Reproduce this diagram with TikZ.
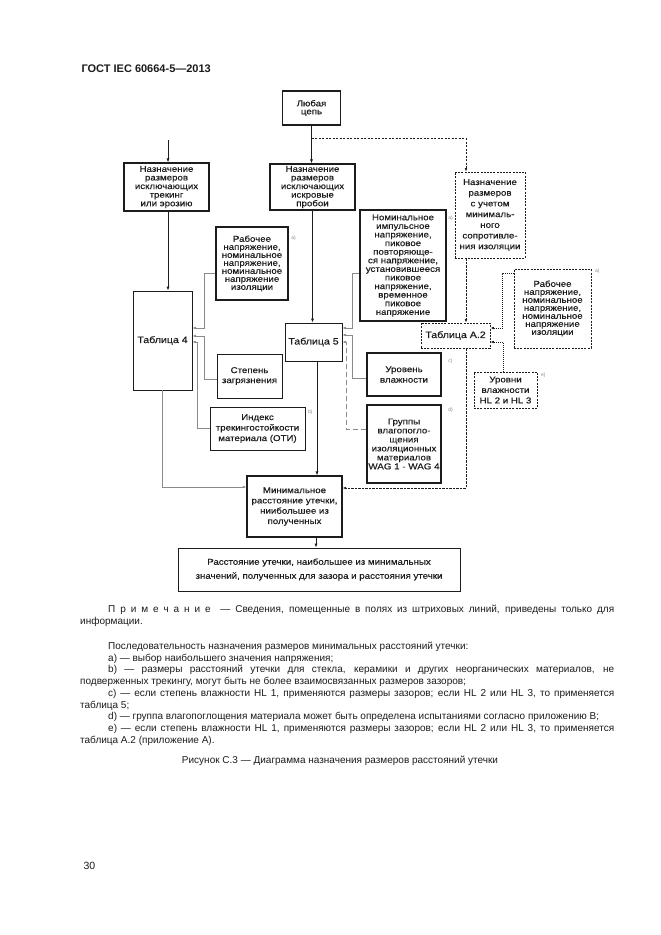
\documentclass[tikz,border=0pt]{standalone}
\usepackage{fontspec}
\setmainfont{Liberation Sans}
\newfontfamily\diafont[FakeStretch=1.14,FakeBold=0.3]{Liberation Sans}
\usetikzlibrary{calc,arrows.meta}
\definecolor{cink}{HTML}{1C1C1C}
\definecolor{cgray}{HTML}{8A8A8A}

\begin{document}
\begin{tikzpicture}[x=1pt,y=-1pt,
    dia/.style={font=\diafont\fontsize{8.5}{#1}\selectfont},dia/.default=8.6,
    every node/.style={text=cink,dia},
    box/.style={draw=cink,line width=1.1pt,align=center,inner sep=0.5pt},
    thinbox/.style={draw=cink,line width=0.7pt,align=center,inner sep=0.5pt},
    dbox/.style={draw=cink,line width=0.7pt,dash pattern=on 2pt off 1.2pt,align=center,inner sep=0.5pt},
    tab/.style={font=\diafont\fontsize{9.3}{11}\selectfont},
    fnote/.style={font=\fontsize{5}{5}\selectfont,text=cgray},
    main/.style={draw=cink,line width=0.9pt,-{Latex[length=4pt,width=3pt]}},
    link/.style={draw=cgray,line width=0.6pt,-{Latex[length=3.5pt,width=2.6pt]}},
    flink/.style={link,dash pattern=on 5pt off 3pt},
    dlink/.style={draw=cink,line width=0.7pt,dash pattern=on 2.2pt off 1.3pt,-{Latex[length=3.5pt,width=2.6pt]}},
    olink/.style={dlink,dash pattern=on 1pt off 1pt}]
  % ---- page
  \path[fill=white] (0,0) rectangle (661,935);
  \node[anchor=west,font=\bfseries\fontsize{11}{13}\selectfont] (head) at (78,69) {ГОСТ IEC 60664-5—2013};

  % ---- top row
  \node[box,minimum width=58,minimum height=34,dia=8] (any) at (311.5,108) {Любая\\цепь};
  \node[box,minimum width=85,minimum height=48] (trk) at (166.5,187)
    {Назначение\\размеров\\исключающих\\трекинг\\или эрозию};
  \node[box,minimum width=85,minimum height=46] (spark) at (312.5,187)
    {Назначение\\размеров\\исключающих\\искровые\\пробои};
  \node[dbox,minimum width=70,minimum height=86,dia=10.7] (ins) at (490,215)
    {Назначение\\размеров\\с учетом\\минималь-\\ного\\сопротивле-\\ния изоляции};

  % ---- voltages
  \node[box,minimum width=86,minimum height=111] (imp) at (403,265.5)
    {Номинальное\\импульсное\\напряжение,\\пиковое\\повторяюще-\\ся напряжение,\\установившееся\\пиковое\\напряжение,\\временное\\пиковое\\напряжение};
  \node[box,minimum width=72,minimum height=73,dia=8] (work) at (252,263.5)
    {Рабочее\\напряжение,\\номинальное\\напряжение,\\номинальное\\напряжение\\изоляции};
  \node[dbox,minimum width=77,minimum height=79,dia=8] (work2) at (552.5,308.5)
    {Рабочее\\напряжение,\\номинальное\\напряжение,\\номинальное\\напряжение\\изоляции};

  % ---- tables
  \node[thinbox,tab,minimum width=59,minimum height=99] (t4) at (162.5,340.5) {Таблица 4};
  \node[thinbox,tab,minimum width=57,minimum height=38] (t5) at (313.5,342) {Таблица 5};
  \node[dbox,tab,minimum width=69,minimum height=25] (ta2) at (455.5,335.5) {Таблица А.2};

  % ---- side inputs
  \node[thinbox,minimum width=65,minimum height=44,dia=10] (poll) at (249.5,376) {Степень\\загрязнения};
  \node[thinbox,minimum width=95,minimum height=43,dia=10.5] (cti) at (257.5,428.5)
    {Индекс\\трекингостойкости\\материала (ОТИ)};
  \node[box,minimum width=74,minimum height=43,dia=10.5] (hum) at (404,374.5) {Уровень\\влажности};
  \node[box,minimum width=74,minimum height=78,dia=9] (wag) at (404,444)
    {Группы\\влагопогло-\\щения\\изоляционных\\материалов\\{\fontsize{8.6}{10}\selectfont WAG 1 - WAG 4}};
  \node[dbox,minimum width=63,minimum height=36,dia=10.5] (hl) at (505.5,390) {Уровни\\влажности\\HL 2 и HL 3};

  % ---- result
  \node[box,minimum width=95,minimum height=61,dia=10.3] (min) at (294.5,506.5)
    {Минимальное\\расстояние утечки,\\ниибольшее из\\полученных};
  \node[thinbox,minimum width=282,minimum height=43,dia=14] (final) at (319,569.5)
    {Расстояние утечки, наибольшее из минимальных\\значений, полученных для зазора и расстояния утечки};

  % ---- footnote marks
  \node[fnote] (na) at ($(imp.north east)+(4,9)$) {a)};
  \node[fnote] (nb) at ($(work.north east)+(5,12)$) {a)};
  \node[fnote] (nc) at ($(cti.north east)+(5,6)$) {b)};
  \node[fnote] (nd) at ($(hum.north east)+(9,9)$) {c)};
  \node[fnote] (ne) at ($(wag.north east)+(9,6)$) {d)};
  \node[fnote] (nf) at ($(work2.north east)+(6,3)$) {a)};
  \node[fnote] (ng) at ($(hl.north east)+(6,4)$) {e)};

  % ---- main flow
  \coordinate (trkin) at (168,140);
  \draw[main] (trkin) -- (trkin |- trk.north);
  \draw[main] (any.south) -- (any.south |- spark.north);
  \draw[main] ([xshift=1.5]trk.south) -- ([xshift=1.5]trk.south |- t4.north);
  \draw[main] (spark.south) -- (spark.south |- t5.north);
  \draw[main] ([xshift=3.5]t5.south) -- ([xshift=3.5]t5.south |- min.north);
  \draw[main] ([xshift=21.5]min.south) -- ([xshift=21.5]min.south |- final.north);

  % ---- feeds into tables 4 and 5
  \draw[link] ([yshift=-9.5]work.west) -- ++(-11,0) |- ([yshift=12.5]t4.east);
  \draw[link] ([yshift=-3]poll.west) -- ++(-12,0) |- ([yshift=4.5]t4.east);
  \draw[link] (cti.west) -- ++(-12,0) |- ([yshift=-1.5]t4.east);
  \draw[link] (t4.south) |- ([yshift=19.5]min.west);
  \draw[link] ([yshift=-7.5]imp.west) -- ++(-7,0) |- ([yshift=14]t5.east);
  \draw[link] ([yshift=-3.5]hum.west) -- ++(-14,0) |- ([yshift=7]t5.east);
  \draw[flink] ([yshift=15]wag.west) -- ++(-20,0) |- (t5.east);

  % ---- dashed branch (table A.2)
  \draw[dlink] ([yshift=-13]any.south) -| ([xshift=-24]ins.north);
  \draw[dlink] ([xshift=-24]ins.south) -- ([xshift=-24]ins.south |- ta2.north);
  \draw[olink] ([yshift=35.5]work2.west) -- ++(-11,0) |- ([yshift=7.5]ta2.east);
  \draw[olink] ([xshift=-2.5]hl.north) |- ([yshift=-6.5]ta2.east);
  \draw[dlink] ([xshift=10.5]ta2.south) |- ([yshift=18.5]min.east);

  % ---- notes under the figure
  \node[anchor=north west,text width=534pt,align=justify,inner sep=0pt,
        font=\fontsize{10}{11.7}\selectfont] (notes) at (80,605) {\hyphenpenalty=10000
    \hspace*{28pt}П р и м е ч а н и е\ \ — Сведения, помещенные в полях из штриховых линий, приведены только для\linebreak
    информации.\\[13.5pt]
    \hspace*{28pt}Последовательность назначения размеров минимальных расстояний утечки:\\
    \hspace*{28pt}a) — выбор наибольшего значения напряжения;\\
    \hspace*{28pt}b) — размеры расстояний утечки для стекла, керамики и других неорганических материалов, не\linebreak
    подверженных трекингу, могут быть не более взаимосвязанных размеров зазоров;\\
    \hspace*{28pt}c) — если степень влажности HL 1, применяются размеры зазоров; если HL 2 или HL 3, то применяется\linebreak
    таблица 5;\\
    \hspace*{28pt}d) — группа влагопоглощения материала может быть определена испытаниями согласно приложению В;\\
    \hspace*{28pt}e) — если степень влажности HL 1, применяются размеры зазоров; если HL 2 или HL 3, то применяется\linebreak
    таблица А.2 (приложение А).};
  \node[font=\fontsize{10}{12}\selectfont] (cap) at (340,761)
    {Рисунок С.3 — Диаграмма назначения размеров расстояний утечки};
  \node[anchor=west,font=\fontsize{10.5}{12}\selectfont] (page) at (80,866) {30};
\end{tikzpicture}
\end{document}
